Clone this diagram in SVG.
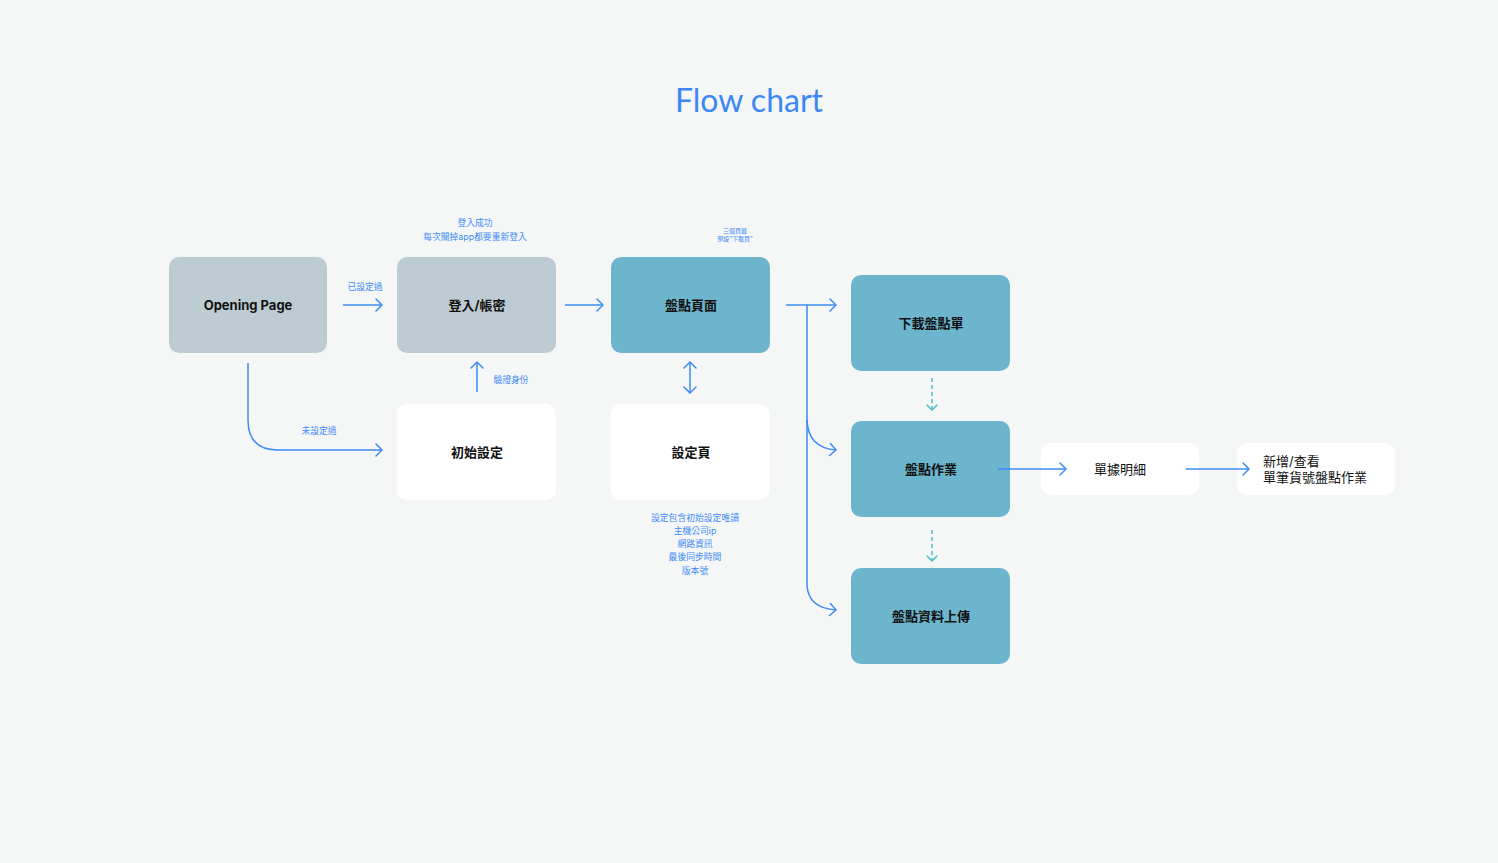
<svg xmlns="http://www.w3.org/2000/svg" width="1498" height="863" viewBox="0 0 1498 863">
<defs>
<marker id="ah" viewBox="-8 -7 10 14" markerWidth="10" markerHeight="14" refX="0" refY="0" markerUnits="userSpaceOnUse" orient="auto-start-reverse">
<path d="M-6,-6 L0,0 L-6,6" fill="none" stroke="#3D8BF7" stroke-width="1.5" stroke-linecap="round" stroke-linejoin="round"/>
</marker>
<marker id="ahd" viewBox="-8 -7 10 14" markerWidth="10" markerHeight="14" refX="0" refY="0" markerUnits="userSpaceOnUse" orient="auto">
<path d="M-5,-5 L0,0 L-5,5" fill="none" stroke="#4DBFCB" stroke-width="1.5" stroke-linecap="round" stroke-linejoin="round"/>
</marker>
</defs>
<style>
.gray{fill:#BCCCD2}
.teal{fill:#6DB5CD}
.white{fill:#FFFFFF}
.nt{font-family:Inter,"Noto Sans CJK TC","Noto Sans CJK SC",sans-serif;font-size:13px;font-weight:700;fill:#111;text-anchor:middle}
.rt{font-family:Inter,"Noto Sans CJK TC","Noto Sans CJK SC",sans-serif;font-size:13px;font-weight:400;fill:#111}
.lb{font-family:Inter,"Noto Sans CJK TC","Noto Sans CJK SC",sans-serif;font-size:8.8px;fill:#3D8BF7;text-anchor:middle}
.sm{font-family:Inter,"Noto Sans CJK TC","Noto Sans CJK SC",sans-serif;font-size:6px;fill:#3D8BF7;text-anchor:middle}
.ln{fill:none;stroke:#3D8BF7;stroke-width:1.5;marker-end:url(#ah)}
.dl{fill:none;stroke:#4DBFCB;stroke-width:1.5;stroke-dasharray:4 3;marker-end:url(#ahd)}
</style>
<rect width="1498" height="863" fill="#F5F7F7"/>
<text x="749" y="112" text-anchor="middle" font-family="Lato,'Open Sans',sans-serif" font-size="32" fill="#3B88F5">Flow chart</text>

<g id="n-opening"><rect class="gray" x="169" y="257" width="158" height="96" rx="10"/><text class="nt" x="248" y="310">Opening Page</text></g>
<g id="n-login"><rect class="gray" x="397" y="257" width="159" height="96" rx="10"/><text class="nt" x="477" y="310">登入/帳密</text></g>
<g id="n-main"><rect class="teal" x="611" y="257" width="159" height="96" rx="10"/><text class="nt" x="691" y="310">盤點頁面</text></g>
<g id="n-init"><rect class="white" x="397" y="404" width="159" height="96" rx="10"/><text class="nt" x="477" y="457">初始設定</text></g>
<g id="n-settings"><rect class="white" x="611" y="404" width="159" height="96" rx="10"/><text class="nt" x="691" y="457">設定頁</text></g>
<g id="n-download"><rect class="teal" x="851" y="275" width="159" height="96" rx="10"/><text class="nt" x="931" y="328">下載盤點單</text></g>
<g id="n-count"><rect class="teal" x="851" y="421" width="159" height="96" rx="10"/><text class="nt" x="931" y="474">盤點作業</text></g>
<g id="n-upload"><rect class="teal" x="851" y="568" width="159" height="96" rx="10"/><text class="nt" x="931" y="621">盤點資料上傳</text></g>
<g id="n-detail"><rect class="white" x="1041" y="443" width="158" height="52" rx="10"/><text class="rt" x="1120" y="474" text-anchor="middle">單據明細</text></g>
<g id="n-add"><rect class="white" x="1237" y="443" width="158" height="52" rx="10"/><text class="rt" x="1263" y="466">新增/查看</text><text class="rt" x="1263" y="482">單筆貨號盤點作業</text></g>

<g id="connectors">
<path class="ln" d="M343,305 H382"/>
<path class="ln" d="M565,305 H603"/>
<path class="ln" d="M477,392 V362"/>
<path class="ln" d="M248,363 V420 Q248,450 278,450 H382"/>
<path class="ln" d="M690,393 V362" style="marker-start:url(#ah)"/>
<path class="ln" d="M786,305 H836"/>
<path class="ln" d="M807,305 V420 Q808,448 836,450"/>
<path class="ln" d="M807,420 V585 Q808,608 836,610"/>
<path class="dl" d="M932,378 V410"/>
<path class="dl" d="M932,530 V561"/>
<path class="ln" d="M998,469 H1066"/>
<path class="ln" d="M1186,469 H1249"/>
</g>

<g id="labels">
<text class="lb" x="365" y="290">已設定過</text>
<text class="lb" x="475" y="226">登入成功</text>
<text class="lb" x="475" y="240">每次關掉app都要重新登入</text>
<text class="sm" x="735" y="233">三個頁籤</text>
<text class="sm" x="735" y="241">預設"下載頁"</text>
<text class="lb" x="511" y="383">驗證身份</text>
<text class="lb" x="319" y="434">未設定過</text>
<text class="lb" x="695" y="521">設定包含初始設定唯讀</text>
<text class="lb" x="695" y="534">主機公司ip</text>
<text class="lb" x="695" y="547">網路資訊</text>
<text class="lb" x="695" y="560">最後同步時間</text>
<text class="lb" x="695" y="574">版本號</text>
</g>
</svg>
